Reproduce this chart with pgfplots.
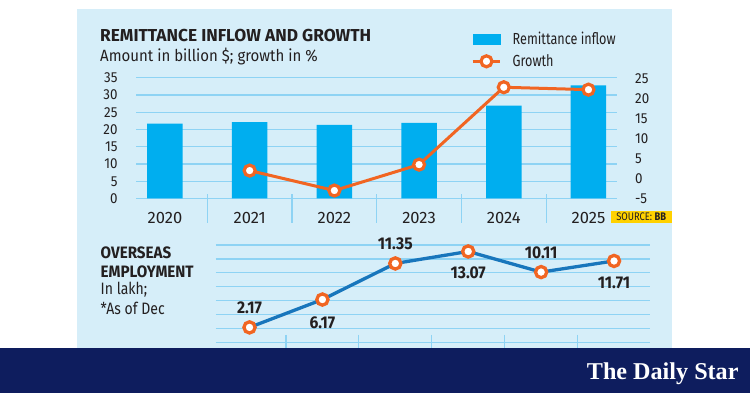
\documentclass[border=0pt]{standalone}
\usepackage{fontspec}
\setmainfont{Fira Sans}[FakeStretch=0.85]
\newfontfamily\widefont{Fira Sans}
\newfontfamily\midfont{Fira Sans}[FakeStretch=0.92]
\newfontfamily\narrowfont{Fira Sans}[FakeStretch=0.79]
\newfontfamily\logofont{Liberation Serif}
\usepackage{pgfplots}
\pgfplotsset{compat=1.18}
\usepackage{graphicx}

\definecolor{panel}{RGB}{214,238,249}
\definecolor{gridc}{RGB}{142,211,244}
\definecolor{barc}{RGB}{0,174,239}
\definecolor{orangec}{RGB}{241,101,34}
\definecolor{linec}{RGB}{24,118,188}
\definecolor{navy}{RGB}{14,29,94}
\definecolor{txt}{RGB}{35,31,32}
\definecolor{srcy}{RGB}{255,209,0}

\begin{document}
\begin{tikzpicture}[x=1pt,y=1pt]
\useasboundingbox (0,0) rectangle (750,393);
\fill[white] (0,0) rectangle (750,393);
\fill[panel] (77.3,44.7) rectangle (671.7,384);
\fill[navy] (0,0) rectangle (750,44.7);

% ---------- top chart: bars ----------
\begin{axis}[
  at={(136pt,194.5pt)}, anchor=south west,
  width=481pt, height=120.8pt, scale only axis,
  xmin=-0.342, xmax=5.337, ymin=0, ymax=35,
  axis line style={draw=none}, tick style={draw=none},
  ytick={0,5,...,35}, ymajorgrids, grid style={gridc, line width=1.2pt},
  xtick={0,...,5}, xticklabels={2020,2021,2022,2023,2024,2025},
  /pgf/number format/assume math mode=true,
  yticklabel style={font=\midfont\fontsize{14.5}{14.5}\selectfont, text=txt, anchor=base east, inner sep=0pt, xshift=-18.3pt, yshift=-5pt},
  xticklabel style={font=\widefont\fontsize{16.5}{16.5}\selectfont, text=txt, anchor=base, inner sep=0pt, yshift=-24.8pt},
  clip=false,
]
\pgfplotsinvokeforeach{0.5,1.5,2.5,3.5,4.5}{
  \draw[gridc, line width=1.2pt] (axis cs:#1,1.3) -- (axis cs:#1,-7.1);
}
\addplot[ybar, bar width=35.5pt, fill=barc, draw=none] coordinates {
  (0,21.7) (1,22.1) (2,21.3) (3,21.9) (4,26.9) (5,32.8)
};
\end{axis}

% ---------- top chart: growth ----------
\begin{axis}[
  at={(136pt,194.5pt)}, anchor=south west,
  width=481pt, height=120.8pt, scale only axis,
  xmin=-0.342, xmax=5.337, ymin=-5, ymax=25.3,
  axis line style={draw=none}, tick style={draw=none},
  xtick=\empty,
  ytick={-5,0,...,25}, yticklabel pos=right,
  /pgf/number format/assume math mode=true,
  yticklabel style={font=\midfont\fontsize{14.5}{14.5}\selectfont, text=txt, anchor=base west, inner sep=0pt, xshift=18pt, yshift=-5pt},
  clip=false,
  legend style={at={(0.6965,1.378)}, anchor=north west, draw=none, fill=none,
    inner sep=0pt, font=\narrowfont\fontsize{16}{16}\selectfont, text=txt, row sep=8pt,
    nodes={inner sep=0pt}},
  legend cell align=left,
]
\addlegendimage{legend image code/.code={\fill[barc] (0pt,-4.65pt) rectangle (27.5pt,4.65pt);}}
\addlegendentry{\hspace{11pt}Remittance inflow}
\addplot[orangec, line width=3pt, mark=*, mark size=5.5pt,
  mark options={fill=white, draw=orangec, line width=3.2pt},
  legend image code/.code={
    \draw[orangec, line width=3pt] (0pt,0pt) -- (27.5pt,0pt);
    \draw[orangec, line width=3.2pt, fill=white] (13.75pt,0pt) circle (5.5pt);}
] coordinates {
  (1,2.0) (2,-3.0) (3,3.5) (4,22.9) (5,22.3)
};
\addlegendentry{\hspace{11pt}Growth}
\end{axis}

% ---------- bottom chart ----------
\begin{axis}[
  at={(215.9pt,44.7pt)}, anchor=south west,
  width=434pt, height=103.3pt, scale only axis,
  xmin=-0.461, xmax=5.492, ymin=-0.83, ymax=14.0,
  axis line style={draw=none}, tick style={draw=none},
  xtick=\empty, ytick={0,2,...,14}, yticklabels={},
  ymajorgrids, grid style={gridc, line width=1.2pt},
  clip=false,
]
\pgfplotsinvokeforeach{0.5,1.5,2.5,3.5,4.5}{
  \draw[gridc, line width=1.2pt] (axis cs:#1,1.08) -- (axis cs:#1,-0.83);
}
\addplot[linec, line width=3.3pt, mark=*, mark size=5.6pt,
  mark options={fill=white, draw=orangec, line width=3.3pt},
  nodes near coords, point meta=explicit symbolic,
  visualization depends on={\thisrow{dy} \as \labdy},
  every node near coord/.append style={anchor=center, yshift=\labdy pt,
    font=\midfont\bfseries\fontsize{17}{17}\selectfont, text=txt, inner sep=0pt}
] table[x=x, y=y, meta=lab] {
x y lab dy
0 2.17 2.17 19.5
1 6.17 6.17 -23
2 11.35 11.35 19.5
3 13.07 13.07 -21.5
4 10.11 10.11 19
5 11.71 11.71 -21.5
};
\end{axis}

% ---------- texts ----------
\node[anchor=base west, inner sep=0pt, text=txt, font=\widefont\bfseries\fontsize{17.3}{17.3}\selectfont] at (100,351.3) {REMITTANCE INFLOW AND GROWTH};
\node[anchor=base west, inner sep=0pt, text=txt, font=\midfont\fontsize{16.3}{16.3}\selectfont] at (100,331.3) {Amount in billion \$; growth in \%};

\node[anchor=base west, inner sep=0pt, text=txt, font=\midfont\bfseries\fontsize{16.5}{16.5}\selectfont] at (100.5,134) {OVERSEAS};
\node[anchor=base west, inner sep=0pt, text=txt, font=\midfont\bfseries\fontsize{16.5}{16.5}\selectfont] at (100.5,115.7) {EMPLOYMENT};
\node[anchor=base west, inner sep=0pt, text=txt, font=\fontsize{16.5}{16.5}\selectfont] at (100.5,98) {In lakh;};
\node[anchor=base west, inner sep=0pt, text=txt, font=\fontsize{16.5}{16.5}\selectfont] at (100.5,78.7) {*As of Dec};

\node[fill=srcy, minimum width=61pt, minimum height=12.6pt, inner sep=0pt, text=txt, font=\fontsize{11}{11}\selectfont] at (641.2,176) {SOURCE: \textbf{BB}};

\node[anchor=base west, inner sep=0pt, text=white] at (586.7,13) {\resizebox{151.6pt}{!}{\logofont\bfseries The Daily Star}};
\end{tikzpicture}
\end{document}
